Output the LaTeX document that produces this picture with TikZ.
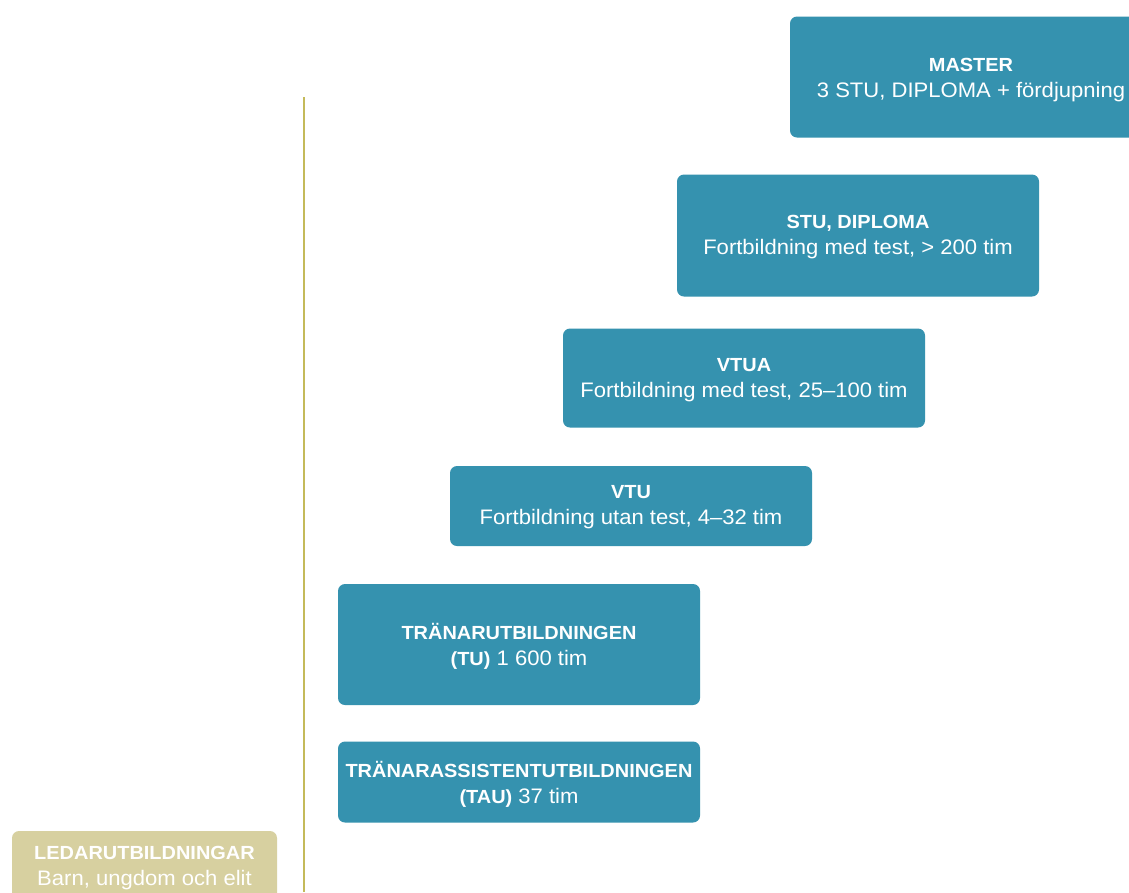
\documentclass[tikz,border=0pt]{standalone}
\usepackage{fontspec}
\setmainfont{Liberation Sans}[FakeStretch=1.05]
\definecolor{teal}{RGB}{53,146,175}
\definecolor{beige}{RGB}{215,208,160}
\definecolor{olive}{RGB}{196,186,90}
\newcommand\hd[1]{{\fontsize{19}{26}\selectfont\bfseries #1}}
\begin{document}
\begin{tikzpicture}[x=1pt,y=-1pt,
  box/.style={fill=teal, rounded corners=7pt, draw=none,
    minimum width=362pt, inner sep=0pt},
  lbox/.style={box, fill=beige},
  txt/.style={text=white, align=center, inner sep=0pt, font=\fontsize{21}{26}\selectfont}]
\clip (0,0) rectangle (1129,892);
\fill[white] (0,0) rectangle (1129,892);
\draw[olive, line width=2pt] (304,97) coordinate (ltop) -- (304,892) coordinate (lbot);
\node[box, minimum height=121pt] (master) at (971,77) {};
\node[txt] (mastert) at ([yshift=-3pt]master.center) {\hd{MASTER}\\3 STU, DIPLOMA + fördjupning};
\node[box, minimum height=122pt] (stu) at (858,235.5) {};
\node[txt] (stut) at ([yshift=-2pt]stu.center) {\hd{STU, DIPLOMA}\\Fortbildning med test, > 200 tim};
\node[box, minimum height=99pt] (vtua) at (744,378) {};
\node[txt] (vtuat) at ([yshift=-2pt]vtua.center) {\hd{VTUA}\\Fortbildning med test, 25–100 tim};
\node[box, minimum height=80pt] (vtu) at (631,506) {};
\node[txt] (vtut) at ([yshift=-1pt]vtu.center) {\hd{VTU}\\Fortbildning utan test, 4–32 tim};
\node[box, minimum height=121pt] (tu) at (519,644.5) {};
\node[txt] (tut) at ([yshift=-2pt]tu.center) {\hd{TRÄNARUTBILDNINGEN}\\\hd{(TU)} 1 600 tim};
\node[box, minimum height=81pt] (tau) at (519,782) {};
\node[txt] (taut) at ([yshift=-2pt]tau.center) {\hd{TRÄNARASSISTENTUTBILDNINGEN}\\\hd{(TAU)} 37 tim};
\node[lbox, minimum width=265pt, minimum height=100pt] (ledar) at (144.5,881) {};
\node[txt] (ledart) at (144.5,868) {\hd{LEDARUTBILDNINGAR}\\Barn, ungdom och elit};
\end{tikzpicture}
\end{document}
